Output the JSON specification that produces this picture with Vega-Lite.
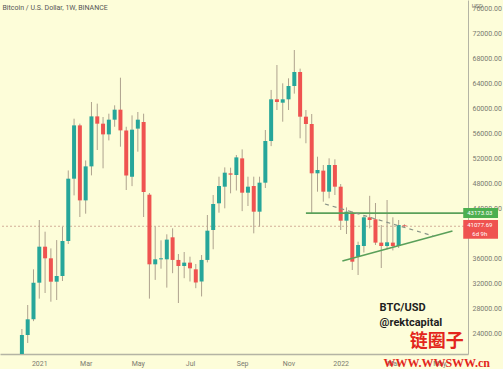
{
  "$schema": "https://vega.github.io/schema/vega-lite/v6.json",
  "width": 468,
  "height": 354,
  "autosize": "none",
  "padding": {"left": 0, "top": 0, "right": 35, "bottom": 15},
  "background": "#FDFDD9",
  "view": {"stroke": null, "fill": "#FDFDD9"},
  "title": {"text": "Bitcoin / U.S. Dollar, 1W, BINANCE", "anchor": "start", "orient": "top", "offset": -11, "dx": 3, "fontSize": 7, "fontWeight": "normal", "color": "#555555", "font": "Roboto"},
  "config": {
    "axis": {"labelFont": "Roboto", "labelFontSize": 7, "labelColor": "#7a7a70", "ticks": false, "grid": false, "title": null, "domainColor": "#b4b4a4", "labelOverlap": false, "labelBound": false}
  },
  "datasets": {
    "candles": [
      {"d": "2020-12-14", "o": 19300, "h": 24640, "l": 19000, "c": 23680},
      {"d": "2020-12-21", "o": 23680, "h": 28480, "l": 22400, "c": 26190},
      {"d": "2020-12-28", "o": 26190, "h": 34190, "l": 25900, "c": 32050},
      {"d": "2021-01-04", "o": 32050, "h": 42080, "l": 29500, "c": 37810},
      {"d": "2021-01-11", "o": 37810, "h": 40210, "l": 30400, "c": 35950},
      {"d": "2021-01-18", "o": 35950, "h": 37540, "l": 29010, "c": 32210},
      {"d": "2021-01-25", "o": 32210, "h": 38870, "l": 29280, "c": 33120},
      {"d": "2021-02-01", "o": 33120, "h": 41010, "l": 32320, "c": 38720},
      {"d": "2021-02-08", "o": 38720, "h": 50010, "l": 38240, "c": 48690},
      {"d": "2021-02-15", "o": 48690, "h": 58290, "l": 46020, "c": 57220},
      {"d": "2021-02-22", "o": 57220, "h": 57500, "l": 42560, "c": 45220},
      {"d": "2021-03-01", "o": 45220, "h": 51610, "l": 43090, "c": 50660},
      {"d": "2021-03-08", "o": 50660, "h": 60960, "l": 49220, "c": 58660},
      {"d": "2021-03-15", "o": 58660, "h": 60700, "l": 53280, "c": 57490},
      {"d": "2021-03-22", "o": 57490, "h": 58560, "l": 50350, "c": 55780},
      {"d": "2021-03-29", "o": 55780, "h": 59090, "l": 54820, "c": 58130},
      {"d": "2021-04-05", "o": 58130, "h": 60430, "l": 57000, "c": 59730},
      {"d": "2021-04-12", "o": 59730, "h": 64850, "l": 53810, "c": 56420},
      {"d": "2021-04-19", "o": 56420, "h": 57000, "l": 46880, "c": 49220},
      {"d": "2021-04-26", "o": 49000, "h": 58820, "l": 47500, "c": 56530},
      {"d": "2021-05-03", "o": 56700, "h": 59360, "l": 53010, "c": 58130},
      {"d": "2021-05-10", "o": 57760, "h": 59090, "l": 42560, "c": 46560},
      {"d": "2021-05-17", "o": 46130, "h": 46400, "l": 29500, "c": 34990},
      {"d": "2021-05-24", "o": 34990, "h": 41060, "l": 32500, "c": 35790},
      {"d": "2021-05-31", "o": 35790, "h": 38830, "l": 34290, "c": 35950},
      {"d": "2021-06-07", "o": 35790, "h": 39790, "l": 31260, "c": 38940},
      {"d": "2021-06-14", "o": 39310, "h": 40750, "l": 33570, "c": 35690},
      {"d": "2021-06-21", "o": 35690, "h": 36640, "l": 28800, "c": 34720},
      {"d": "2021-06-28", "o": 34720, "h": 36960, "l": 32770, "c": 35260},
      {"d": "2021-07-05", "o": 35260, "h": 36210, "l": 32240, "c": 34350},
      {"d": "2021-07-12", "o": 34190, "h": 35040, "l": 31170, "c": 32080},
      {"d": "2021-07-19", "o": 32240, "h": 36480, "l": 29850, "c": 35690},
      {"d": "2021-07-26", "o": 35690, "h": 42880, "l": 35300, "c": 40370},
      {"d": "2021-08-02", "o": 40480, "h": 46080, "l": 37400, "c": 44640},
      {"d": "2021-08-09", "o": 44750, "h": 49010, "l": 43250, "c": 47520},
      {"d": "2021-08-16", "o": 47410, "h": 50500, "l": 43950, "c": 49650},
      {"d": "2021-08-23", "o": 49540, "h": 50450, "l": 46350, "c": 49330},
      {"d": "2021-08-30", "o": 49280, "h": 52480, "l": 46800, "c": 52100},
      {"d": "2021-09-06", "o": 51940, "h": 53380, "l": 43500, "c": 46450},
      {"d": "2021-09-13", "o": 46450, "h": 49010, "l": 44320, "c": 47410},
      {"d": "2021-09-20", "o": 47520, "h": 49010, "l": 39950, "c": 43410},
      {"d": "2021-09-27", "o": 43410, "h": 49010, "l": 41010, "c": 48050},
      {"d": "2021-10-04", "o": 48050, "h": 56480, "l": 47200, "c": 54720},
      {"d": "2021-10-11", "o": 54720, "h": 62890, "l": 53900, "c": 61390},
      {"d": "2021-10-18", "o": 61390, "h": 66880, "l": 59680, "c": 60960},
      {"d": "2021-10-25", "o": 60850, "h": 63950, "l": 57810, "c": 61390},
      {"d": "2021-11-01", "o": 61390, "h": 64750, "l": 59680, "c": 63520},
      {"d": "2021-11-08", "o": 63520, "h": 69280, "l": 62300, "c": 65760},
      {"d": "2021-11-15", "o": 65760, "h": 66300, "l": 55150, "c": 58610},
      {"d": "2021-11-22", "o": 58610, "h": 59680, "l": 54360, "c": 57440},
      {"d": "2021-11-29", "o": 57440, "h": 59040, "l": 43100, "c": 49550},
      {"d": "2021-12-06", "o": 49550, "h": 52210, "l": 46610, "c": 50080},
      {"d": "2021-12-13", "o": 49980, "h": 50880, "l": 45010, "c": 46610},
      {"d": "2021-12-20", "o": 46610, "h": 51950, "l": 45550, "c": 50880},
      {"d": "2021-12-27", "o": 50880, "h": 51790, "l": 46080, "c": 47410},
      {"d": "2022-01-03", "o": 47410, "h": 47840, "l": 40480, "c": 41970},
      {"d": "2022-01-10", "o": 41970, "h": 44100, "l": 39840, "c": 43410},
      {"d": "2022-01-17", "o": 43250, "h": 43500, "l": 34080, "c": 35410},
      {"d": "2022-01-24", "o": 36210, "h": 38610, "l": 33280, "c": 38080},
      {"d": "2022-01-31", "o": 37920, "h": 42720, "l": 36880, "c": 42510},
      {"d": "2022-02-07", "o": 42510, "h": 45950, "l": 40750, "c": 42080},
      {"d": "2022-02-14", "o": 42190, "h": 44800, "l": 38080, "c": 38460},
      {"d": "2022-02-21", "o": 38460, "h": 41280, "l": 34400, "c": 37920},
      {"d": "2022-02-28", "o": 37920, "h": 45280, "l": 37400, "c": 38510},
      {"d": "2022-03-07", "o": 38460, "h": 42510, "l": 37210, "c": 37920},
      {"d": "2022-03-14", "o": 37920, "h": 42080, "l": 37600, "c": 41280},
      {"d": "2022-03-21", "o": 41230, "h": 41400, "l": 40900, "c": 41077.69}
    ],
    "lines": [
      {"id": "level", "d": "2021-11-22", "v": 43173.03},
      {"id": "level", "d": "2022-06-05", "v": 43173.03},
      {"id": "support", "d": "2022-01-05", "v": 35520},
      {"id": "support", "d": "2022-05-18", "v": 40320},
      {"id": "path", "d": "2021-12-15", "v": 44640},
      {"id": "path", "d": "2022-04-25", "v": 39520}
    ],
    "tags": [
      {"kind": "level", "d": "2022-05-31", "d2": "2022-07-12", "v1": 42400, "v2": 44000},
      {"kind": "price", "d": "2022-05-31", "d2": "2022-07-12", "v1": 39100, "v2": 42080}
    ],
    "tagtext": [
      {"d": "2022-06-20", "v": 43200, "t": "43173.03"},
      {"d": "2022-06-20", "v": 41350, "t": "41077.69"},
      {"d": "2022-06-20", "v": 39800, "t": "6d 9h"}
    ],
    "notes": [
      {"d": "2022-02-19", "v": 28000, "t": "BTC/USD"},
      {"d": "2022-02-19", "v": 25600, "t": "@rektcapital"}
    ],
    "marks": [
      {"d": "2022-04-29", "v": 22610, "t": "链圈子", "k": "cn"},
      {"d": "2022-04-29", "v": 19200, "t": "WWW.WWSWW.cn", "k": "url"}
    ]
  },
  "encoding": {
    "x": {
      "field": "d",
      "type": "temporal",
      "scale": {"type": "utc", "domain": [{"year": 2020, "month": 11, "date": 23, "hours": 14, "utc": true}, {"year": 2022, "month": 5, "date": 30, "hours": 17, "utc": true}]},
      "axis": {
        "orient": "bottom",
        "values": [
          {"year": 2021, "month": 1, "date": 4, "utc": true},
          {"year": 2021, "month": 3, "date": 1, "utc": true},
          {"year": 2021, "month": 5, "date": 3, "utc": true},
          {"year": 2021, "month": 7, "date": 5, "utc": true},
          {"year": 2021, "month": 9, "date": 6, "utc": true},
          {"year": 2021, "month": 11, "date": 1, "utc": true},
          {"year": 2022, "month": 1, "date": 3, "utc": true},
          {"year": 2022, "month": 3, "date": 7, "utc": true},
          {"year": 2022, "month": 5, "date": 2, "utc": true}
        ],
        "labelExpr": "utcmonth(datum.value) == 0 ? utcFormat(datum.value, '%Y') : utcFormat(datum.value, '%b')",
        "labelPadding": 5,
        "domainWidth": 1.5
      }
    }
  },
  "layer": [
    {
      "data": {"values": [{"p": 41077.69}]},
      "mark": {"type": "rule", "color": "#d2ae98", "strokeDash": [2, 2], "strokeWidth": 1},
      "encoding": {
        "x": null,
        "y": {"field": "p", "type": "quantitative", "scale": {"domain": [20640, 77280]},
          "axis": {"orient": "right", "values": [24000, 28000, 32000, 36000, 44000, 48000, 52000, 56000, 60000, 64000, 68000, 72000, 76000], "format": ".2f", "labelPadding": 4, "labelAlign": "left", "labelOverlap": false, "zindex": 0}}
      }
    },
    {
      "data": {"name": "candles"},
      "mark": {"type": "rule", "color": "#aea28e", "strokeWidth": 1, "clip": true},
      "encoding": {
        "y": {"field": "l", "type": "quantitative", "scale": {"domain": [20640, 77280]},
          "axis": {"orient": "right", "values": [24000, 28000, 32000, 36000, 44000, 48000, 52000, 56000, 60000, 64000, 68000, 72000, 76000], "format": ".2f", "labelPadding": 4, "labelAlign": "left", "labelOverlap": false, "zindex": 0}},
        "y2": {"field": "h"}
      }
    },
    {
      "data": {"name": "candles"},
      "mark": {"type": "bar", "size": 4, "clip": true},
      "encoding": {
        "y": {"field": "o", "type": "quantitative", "scale": {"domain": [20640, 77280]},
          "axis": {"orient": "right", "values": [24000, 28000, 32000, 36000, 44000, 48000, 52000, 56000, 60000, 64000, 68000, 72000, 76000], "format": ".2f", "labelPadding": 4, "labelAlign": "left", "labelOverlap": false, "zindex": 0}},
        "y2": {"field": "c"},
        "color": {"condition": {"test": "datum.c >= datum.o", "value": "#26a69a"}, "value": "#ef5350"}
      }
    },
    {
      "data": {"name": "lines"},
      "transform": [{"filter": "datum.id == 'level'"}],
      "mark": {"type": "line", "color": "#5aa05a", "strokeWidth": 1.6, "clip": true},
      "encoding": {"y": {"field": "v", "type": "quantitative", "scale": {"domain": [20640, 77280]},
          "axis": {"orient": "right", "values": [24000, 28000, 32000, 36000, 44000, 48000, 52000, 56000, 60000, 64000, 68000, 72000, 76000], "format": ".2f", "labelPadding": 4, "labelAlign": "left", "labelOverlap": false, "zindex": 0}}}
    },
    {
      "data": {"name": "lines"},
      "transform": [{"filter": "datum.id == 'support'"}],
      "mark": {"type": "line", "color": "#5aa05a", "strokeWidth": 1.6, "clip": true},
      "encoding": {"y": {"field": "v", "type": "quantitative", "scale": {"domain": [20640, 77280]},
          "axis": {"orient": "right", "values": [24000, 28000, 32000, 36000, 44000, 48000, 52000, 56000, 60000, 64000, 68000, 72000, 76000], "format": ".2f", "labelPadding": 4, "labelAlign": "left", "labelOverlap": false, "zindex": 0}}}
    },
    {
      "data": {"name": "lines"},
      "transform": [{"filter": "datum.id == 'path'"}],
      "mark": {"type": "line", "color": "#8a9488", "strokeWidth": 1.2, "strokeDash": [4, 4], "clip": true},
      "encoding": {"y": {"field": "v", "type": "quantitative", "scale": {"domain": [20640, 77280]},
          "axis": {"orient": "right", "values": [24000, 28000, 32000, 36000, 44000, 48000, 52000, 56000, 60000, 64000, 68000, 72000, 76000], "format": ".2f", "labelPadding": 4, "labelAlign": "left", "labelOverlap": false, "zindex": 0}}}
    },
    {
      "data": {"name": "notes"},
      "mark": {"type": "text", "align": "left", "baseline": "middle", "font": "Roboto", "fontWeight": "bold", "fontSize": 11, "color": "#1e1e1e"},
      "encoding": {
        "y": {"field": "v", "type": "quantitative", "scale": {"domain": [20640, 77280]},
          "axis": {"orient": "right", "values": [24000, 28000, 32000, 36000, 44000, 48000, 52000, 56000, 60000, 64000, 68000, 72000, 76000], "format": ".2f", "labelPadding": 4, "labelAlign": "left", "labelOverlap": false, "zindex": 0}},
        "text": {"field": "t"}
      }
    },
    {
      "data": {"name": "tags"},
      "mark": {"type": "rect", "clip": false},
      "encoding": {
        "x2": {"field": "d2"},
        "y": {"field": "v1", "type": "quantitative", "scale": {"domain": [20640, 77280]},
          "axis": {"orient": "right", "values": [24000, 28000, 32000, 36000, 44000, 48000, 52000, 56000, 60000, 64000, 68000, 72000, 76000], "format": ".2f", "labelPadding": 4, "labelAlign": "left", "labelOverlap": false, "zindex": 0}},
        "y2": {"field": "v2"},
        "color": {"field": "kind", "type": "nominal", "scale": {"domain": ["level", "price"], "range": ["#4caf50", "#ef5350"]}, "legend": null}
      }
    },
    {
      "data": {"name": "tagtext"},
      "mark": {"type": "text", "align": "center", "baseline": "middle", "font": "Roboto", "fontSize": 6, "color": "#ffffff", "clip": false},
      "encoding": {
        "y": {"field": "v", "type": "quantitative", "scale": {"domain": [20640, 77280]},
          "axis": {"orient": "right", "values": [24000, 28000, 32000, 36000, 44000, 48000, 52000, 56000, 60000, 64000, 68000, 72000, 76000], "format": ".2f", "labelPadding": 4, "labelAlign": "left", "labelOverlap": false, "zindex": 0}},
        "text": {"field": "t"}
      }
    },
    {
      "data": {"values": [{"d": "2022-06-17", "v": 76300, "t": "USD"}]},
      "mark": {"type": "text", "align": "center", "baseline": "middle", "font": "Roboto", "fontSize": 6, "color": "#7a7a70", "clip": false},
      "encoding": {
        "y": {"field": "v", "type": "quantitative", "scale": {"domain": [20640, 77280]},
          "axis": {"orient": "right", "values": [24000, 28000, 32000, 36000, 44000, 48000, 52000, 56000, 60000, 64000, 68000, 72000, 76000], "format": ".2f", "labelPadding": 4, "labelAlign": "left", "labelOverlap": false, "zindex": 0}},
        "text": {"field": "t"}
      }
    },
    {
      "data": {"name": "marks"},
      "transform": [{"filter": "datum.k == 'cn'"}],
      "mark": {"type": "text", "align": "center", "baseline": "middle", "font": "Noto Sans CJK SC", "fontWeight": "bold", "fontSize": 18, "color": "#e3261c", "clip": false},
      "encoding": {
        "y": {"field": "v", "type": "quantitative", "scale": {"domain": [20640, 77280]},
          "axis": {"orient": "right", "values": [24000, 28000, 32000, 36000, 44000, 48000, 52000, 56000, 60000, 64000, 68000, 72000, 76000], "format": ".2f", "labelPadding": 4, "labelAlign": "left", "labelOverlap": false, "zindex": 0}},
        "text": {"field": "t"}
      }
    },
    {
      "data": {"name": "marks"},
      "transform": [{"filter": "datum.k == 'url'"}],
      "mark": {"type": "text", "align": "center", "baseline": "middle", "font": "Liberation Serif", "fontWeight": "bold", "fontSize": 12, "color": "#e3261c", "clip": false},
      "encoding": {
        "y": {"field": "v", "type": "quantitative", "scale": {"domain": [20640, 77280]},
          "axis": {"orient": "right", "values": [24000, 28000, 32000, 36000, 44000, 48000, 52000, 56000, 60000, 64000, 68000, 72000, 76000], "format": ".2f", "labelPadding": 4, "labelAlign": "left", "labelOverlap": false, "zindex": 0}},
        "text": {"field": "t"}
      }
    }
  ]
}
